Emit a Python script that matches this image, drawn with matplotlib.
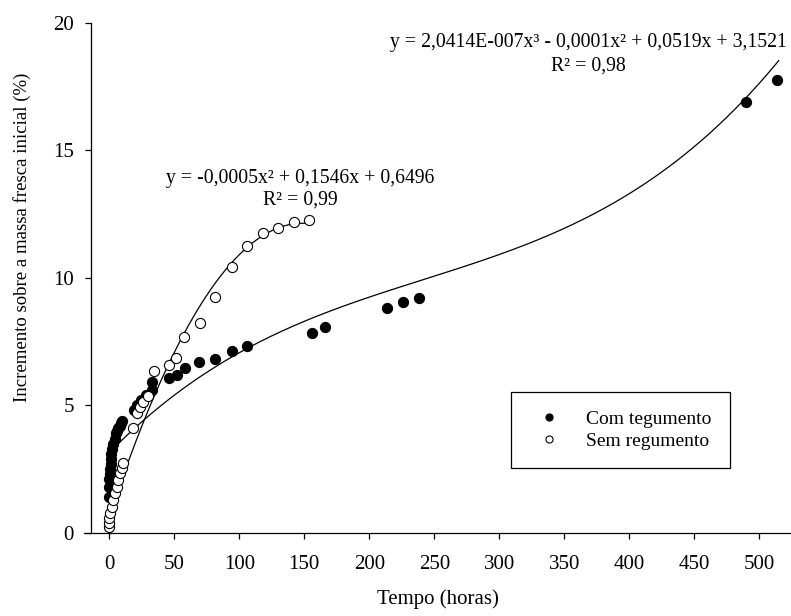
import numpy as np
import matplotlib

matplotlib.use("Agg")
from matplotlib import pyplot as plt

plt.rcParams["font.family"] = ["Liberation Serif", "DejaVu Serif"]

# Com tegumento (filled markers)
com_tempo = [0, 0, 0, 0.5, 0.5, 1, 1, 1.5, 2, 3, 4, 5, 6, 7, 8, 9, 10,
             19, 21, 24, 28, 33, 33, 46, 52, 58, 69, 81, 94, 106,
             156, 166, 214, 226, 238, 490, 514]
com_incremento = [1.4, 1.8, 2.1, 2.3, 2.5, 2.7, 2.9, 3.1, 3.3, 3.5, 3.7, 3.9, 4.0, 4.1, 4.2, 4.3, 4.4,
                  4.82, 5.02, 5.22, 5.41, 5.61, 5.93, 6.07, 6.2, 6.45, 6.7, 6.82, 7.15, 7.31,
                  7.85, 8.09, 8.8, 9.05, 9.2, 16.88, 17.76]

# Sem tegumento (open markers)
sem_tempo = [0, 0, 0, 0.5, 1.8, 3.1, 4.4, 5.7, 6.9, 8.2, 9.5, 10.8,
             18.5, 21, 23.6, 26.2, 30, 34, 46, 51, 57.5, 69.5, 81, 94, 106, 118.5, 130, 142, 154]
sem_incremento = [0.24, 0.38, 0.58, 0.77, 1.03, 1.29, 1.56, 1.82, 2.08, 2.34, 2.54, 2.76,
                  4.1, 4.69, 4.95, 5.15, 5.37, 6.33, 6.59, 6.87, 7.7, 8.22, 9.24, 10.44, 11.25, 11.75, 11.97, 12.17, 12.27]

# trend line coefficients (highest power first; printed values are rounded)
com_coef = [2.0414e-7, -0.000148, 0.0519, 3.1521]
sem_coef = [-0.00052, 0.1546, 0.6496]

legend_labels = ["Com tegumento", "Sem regumento"]
eq_com = "y = 2,0414E-007x³ - 0,0001x² + 0,0519x + 3,1521"
r2_com = "R² = 0,98"
eq_sem = "y = -0,0005x² + 0,1546x + 0,6496"
r2_sem = "R² = 0,99"
x_ticks = list(range(0, 501, 50))
y_ticks = [0, 5, 10, 15, 20]

W, H = 791, 616
fig = plt.figure(figsize=(W / 100, H / 100), dpi=100)
ax = fig.add_axes([84 / W, 1 - 533 / H, (W - 84) / W, (533 - 22.7) / H])

# trend lines
xc = np.linspace(0, max(com_tempo) + 1, 400)
xs = np.linspace(0, max(sem_tempo) + 1, 300)
ax.plot(xc, np.polyval(com_coef, xc), color="black", lw=0.9, zorder=2)
ax.plot(xs, np.polyval(sem_coef, xs), color="black", lw=0.9, zorder=2)

ax.plot(com_tempo, com_incremento, "o", ms=7.3, mfc="black", mec="black",
        mew=0.8, ls="none", zorder=3, label=legend_labels[0])
ax.plot(sem_tempo, sem_incremento, "o", ms=7.3, mfc="white", mec="black",
        mew=0.8, ls="none", zorder=4, label=legend_labels[1])

ax.set_xlim(-19.5, 524.5)
ax.set_ylim(0, 20)
ax.set_xticks(x_ticks)
ax.set_yticks(y_ticks)
ax.spines["top"].set_visible(False)
ax.spines["right"].set_visible(False)
ax.spines["left"].set_position(("data", -14))
for s in ("left", "bottom"):
    ax.spines[s].set_linewidth(0.9)
ax.tick_params(direction="out", length=4.5, width=0.9, labelsize=15)
ax.tick_params(axis="x", pad=11)
ax.tick_params(axis="y", pad=8)

ax.set_xlabel("Tempo (horas)", fontsize=15, labelpad=11)
ax.set_ylabel("Incremento sobre a massa fresca inicial (%)", fontsize=13.5)
ax.yaxis.set_label_coords(-0.075, 0.58)

fig.text(588 / W, 1 - 43 / H, eq_com, fontsize=14.2, ha="center", va="center")
fig.text(588 / W, 1 - 66 / H, r2_com, fontsize=14.2, ha="center", va="center")
fig.text(300 / W, 1 - 178 / H, eq_sem, fontsize=14.2, ha="center", va="center")
fig.text(300 / W, 1 - 200 / H, r2_sem, fontsize=14.2, ha="center", va="center")

leg = ax.legend(loc="upper left", bbox_to_anchor=(511 / W, 1 - 392 / H),
                bbox_transform=fig.transFigure, borderaxespad=0, fontsize=14,
                markerscale=0.7, handlelength=2.0, handletextpad=0.9,
                borderpad=0.95, labelspacing=0.2, fancybox=False,
                frameon=True, edgecolor="black", framealpha=1)
leg.get_frame().set_linewidth(0.9)

fig.savefig("out.png", dpi=100)
